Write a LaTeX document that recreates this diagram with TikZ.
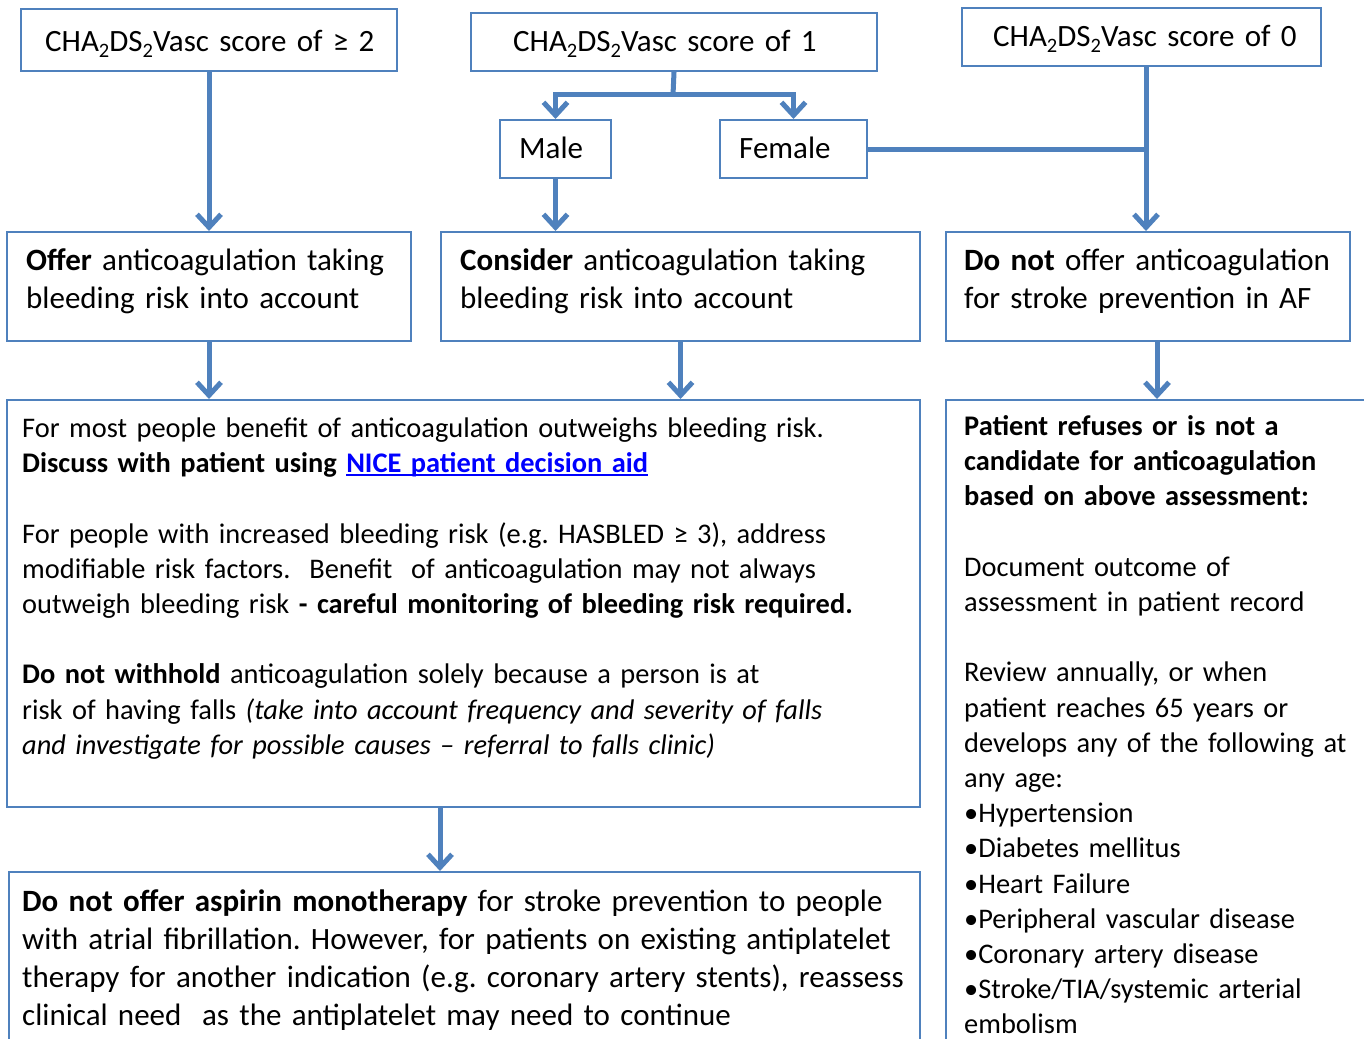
\documentclass[tikz,border=0pt]{standalone}
\usepackage{fontspec}
\setmainfont{Carlito}
\usetikzlibrary{arrows.meta}
\definecolor{boxblue}{RGB}{79,129,189}
\definecolor{linkblue}{RGB}{0,0,255}
\newcommand\subtwo{\raisebox{-6pt}{\fontsize{20.5}{20.5}\selectfont 2}}
\newcommand\linkul[1]{\setbox0\hbox{#1}\rlap{\rule[-3.5pt]{\wd0}{1.8pt}}\box0}
\newcommand\fontbig{\fontsize{31.0}{38.2}\selectfont\frenchspacing}
\newcommand\fontmid{\fontsize{28.4}{35.2}\selectfont\frenchspacing}
\begin{document}
\begin{tikzpicture}[x=1pt,y=-1pt,
 box/.style={draw=boxblue,line width=2pt,inner sep=0pt,anchor=north west},
 conn/.style={draw=boxblue,line width=5pt},
 arr/.style={conn,-{Straight Barb[length=13pt,width=24pt]}},
 txt/.style={inner sep=0pt,anchor=base west,align=left,text width=1000pt},
 bigf/.style={font=\fontbig},
 midf/.style={font=\fontmid},
]
\useasboundingbox (0,0) rectangle (1364,1038);
\clip (0,0) rectangle (1364,1038);
\fill[white] (0,0) rectangle (1364,1038);

% boxes
\node[box,minimum width=376pt,minimum height=62pt] (sA) at (20,8) {};
\node[box,minimum width=406pt,minimum height=58pt] (sB) at (470,12) {};
\node[box,minimum width=359pt,minimum height=58pt] (sC) at (961,7) {};
\node[box,minimum width=111pt,minimum height=58pt] (male) at (499,119) {};
\node[box,minimum width=147pt,minimum height=58pt] (female) at (719,119) {};
\node[box,minimum width=404pt,minimum height=109pt] (offer) at (6,231) {};
\node[box,minimum width=479pt,minimum height=109pt] (consider) at (440,231) {};
\node[box,minimum width=404pt,minimum height=109pt] (donot) at (945,231) {};
\node[box,minimum width=913pt,minimum height=407pt] (mainbox) at (6,399) {};
\node[box,minimum width=450pt,minimum height=700pt] (refuse) at (945,399) {};
\node[box,minimum width=911pt,minimum height=220pt] (aspirin) at (8,871) {};

% texts
\node[txt,bigf] (tA) at (45,52) {CHA\subtwo DS\subtwo Vasc score of\ ≥ 2};
\node[txt,bigf] (tB) at (513,52) {CHA\subtwo DS\subtwo Vasc score of 1};
\node[txt,bigf] (tC) at (993,47) {CHA\subtwo DS\subtwo Vasc score of 0};
\node[txt,bigf] (tmale) at (519,158) {Male};
\node[txt,bigf] (tfemale) at (739,158) {Female};
\node[txt,bigf] (toffer) at (26,270) {\textbf{Offer} anticoagulation taking\\bleeding risk into account};
\node[txt,bigf] (tconsider) at (460,270) {\textbf{Consider} anticoagulation taking\\bleeding risk into account};
\node[txt,bigf] (tdonot) at (964,270) {\textbf{Do not} offer anticoagulation\\for stroke prevention in AF};
\node[txt,midf] (tmain) at (22,437.5) {For most people benefit of anticoagulation outweighs bleeding risk.\\
\textbf{Discuss with patient using \textcolor{linkblue}{\linkul{NICE patient decision aid}}}\\
\strut\\
For people with increased bleeding risk (e.g. HASBLED ≥ 3), address\\
modifiable risk factors.\ \ Benefit\ \ of anticoagulation may not always\\
outweigh bleeding risk \textbf{- careful monitoring of bleeding risk required.}\\
\strut\\
\textbf{Do not withhold} anticoagulation solely because a person is at\\
risk of having falls \textit{(take into account frequency and severity of falls}\\
\textit{and investigate for possible causes – referral to falls clinic)}};
\node[txt,midf] (trefuse) at (964,435.5) {\textbf{Patient refuses or is not a}\\
\textbf{candidate for anticoagulation}\\
\textbf{based on above assessment:}\\
\strut\\
Document outcome of\\
assessment in patient record\\
\strut\\
Review annually, or when\\
patient reaches 65 years or\\
develops any of the following at\\
any age:\\
•Hypertension\\
•Diabetes mellitus\\
•Heart Failure\\
•Peripheral vascular disease\\
•Coronary artery disease\\
•Stroke/TIA/systemic arterial\\
embolism};
\node[txt,bigf] (taspirin) at (22,911) {\textbf{Do not offer aspirin monotherapy} for stroke prevention to people\\
with atrial fibrillation. However, for patients on existing antiplatelet\\
therapy for another indication (e.g. coronary artery stents), reassess\\
clinical need\ \ as the antiplatelet may need to continue};

% connectors
\coordinate (bj) at (673,95);
\coordinate (cx) at (1146,0);
\coordinate (mx) at (440,0);
\coordinate (rx) at (1157,0);
\draw[arr] (sA.south) -- (offer.north);
\draw[conn] (sB.south) -- (bj);
\draw[arr] (bj) -| (male.north);
\draw[arr] (bj) -| (female.north);
\draw[arr] (male.south) -- (consider.north -| male.south);
\draw[arr] (sC.south -| cx) -- (donot.north -| cx);
\draw[conn] (female.east) -- (female.east -| cx);
\draw[arr] (offer.south) -- (mainbox.north -| offer.south);
\draw[arr] (consider.south) -- (mainbox.north -| consider.south);
\draw[arr] (donot.south -| rx) -- (refuse.north -| rx);
\draw[arr] (mainbox.south -| mx) -- (aspirin.north -| mx);
\end{tikzpicture}
\end{document}
